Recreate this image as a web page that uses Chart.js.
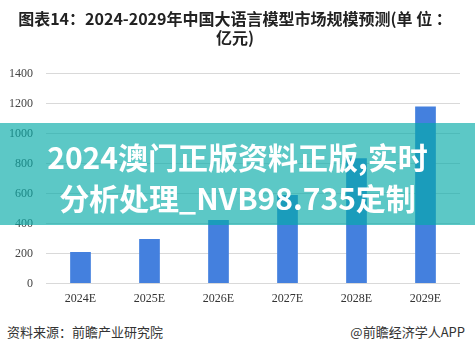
<!DOCTYPE html>
<html>
<head>
<meta charset="utf-8">
<script src="https://cdn.jsdelivr.net/npm/chart.js@4.4.1/dist/chart.umd.min.js"></script>
<style>
  body { margin: 0; background: #fff; width: 475px; height: 351px; overflow: hidden; position: relative; }
  .box { position: absolute; left: 0; top: 0; width: 475px; height: 310px; }
  .source { position: absolute; left: 7px; top: 322px; font: 13px "Noto Sans CJK SC", sans-serif; color: #333; }
  .brand { position: absolute; right: 10px; top: 322px; font: 13px "Noto Sans CJK SC", sans-serif; color: #333; }
  .band {
    position: absolute; left: 0; top: 123px; width: 475px; height: 102px;
    background: rgba(4, 170, 168, 0.65);
    color: #fff; font: bold 30px "Noto Sans CJK SC", sans-serif;
    text-align: center; line-height: 41px; padding-top: 13px; box-sizing: border-box;
  }
</style>
</head>
<body>
<div class="box"><canvas id="chart"></canvas></div>
<div class="source">资料来源：前瞻产业研究院</div>
<div class="brand">@前瞻经济学人APP</div>
<div class="band">2024澳门正版资料正版,实时<br>分析处理_NVB98.735定制</div>
<script>
// 年份與市場規模(億元)
var years = ['2024E', '2025E', '2026E', '2027E', '2028E', '2029E'];
var marketSize = [211, 298, 425, 591, 836, 1182];
var titleLines = ['图表14：2024-2029年中国大语言模型市场规模预测(单 位 ：', '亿元)'];

var config = {
    type: 'bar',
    data: {
        labels: years,
        datasets: [
            {
                label: '市场规模',
                data: marketSize,
                backgroundColor: '#4480de',
                categoryPercentage: 1,
                barPercentage: 0.3
            }
        ]
    },
    options: {
        responsive: true,
        maintainAspectRatio: false,
        animation: false,
        layout: { padding: { left: 10, right: 15, top: 0, bottom: 4 } },
        plugins: {
            legend: { display: false },
            tooltip: { enabled: false },
            title: {
                display: true,
                text: titleLines,
                color: '#222',
                font: { family: '"Noto Sans CJK SC", sans-serif', size: 16, weight: 'bold', lineHeight: 1.15 },
                padding: { top: 10, bottom: 27 }
            }
        },
        scales: {
            x: {
                grid: { display: false },
                border: { display: false },
                ticks: { color: '#333', padding: 0, font: { family: '"Liberation Serif", serif', size: 12 } }
            },
            y: {
                min: 0,
                max: 1400,
                afterFit: function(scale) { scale.width = 36; },
                ticks: {
                    stepSize: 200,
                    color: '#444',
                    padding: 13,
                    font: { family: '"Liberation Serif", serif', size: 12 },
                    callback: function(v) { return String(v); }
                },
                grid: { color: '#d9d9d9', drawTicks: false },
                border: { display: false }
            }
        }
    }
};

var ctx = document.getElementById('chart').getContext('2d');
var chart = new Chart(ctx, config);
</script>
</body>
</html>
